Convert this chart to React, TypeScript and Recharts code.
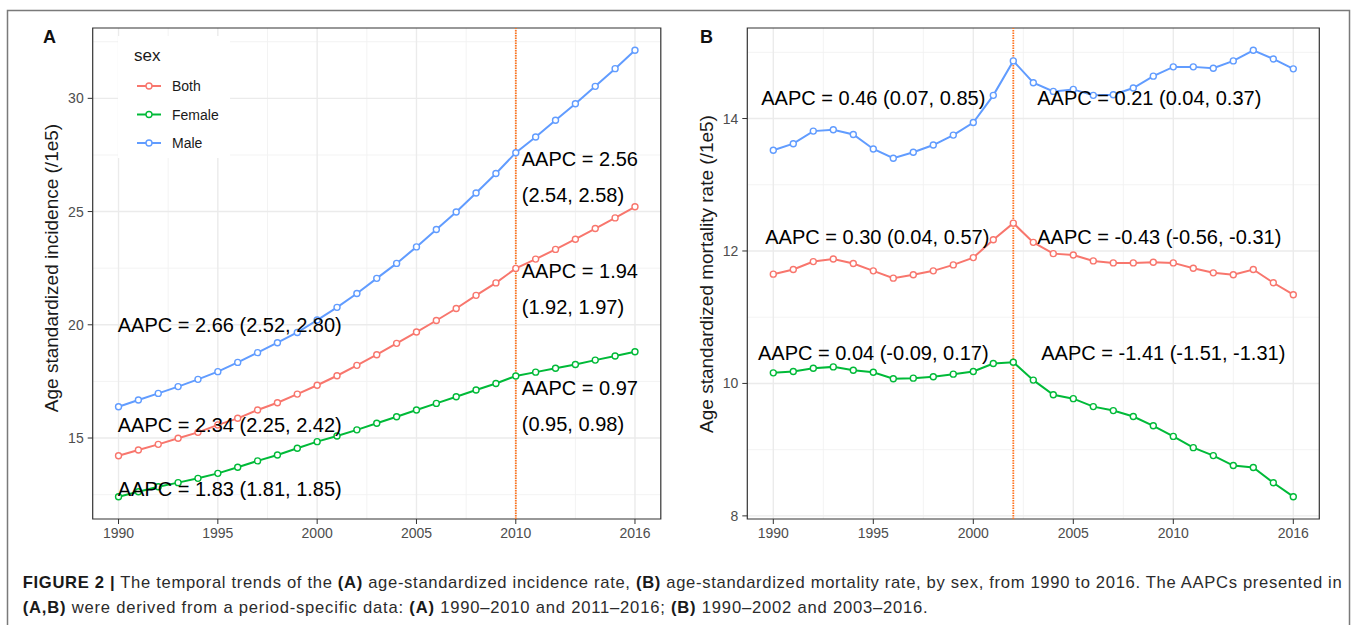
import React from "react";
import {
  LineChart,
  Line,
  XAxis,
  YAxis,
  CartesianGrid,
  ReferenceLine,
  ReferenceDot,
  ReferenceArea,
} from "recharts";

const years = [
  1990, 1991, 1992, 1993, 1994, 1995, 1996, 1997, 1998, 1999, 2000, 2001, 2002,
  2003, 2004, 2005, 2006, 2007, 2008, 2009, 2010, 2011, 2012, 2013, 2014, 2015,
  2016,
];

// panel A: age standardized incidence (/1e5)
const incidenceBoth = [
  14.22, 14.47, 14.72, 14.99, 15.25, 15.58, 15.87, 16.24, 16.56, 16.94, 17.33,
  17.75, 18.21, 18.68, 19.18, 19.68, 20.19, 20.72, 21.3, 21.85, 22.49, 22.9,
  23.33, 23.78, 24.25, 24.72, 25.21,
];
const incidenceFemale = [
  12.41, 12.63, 12.85, 13.03, 13.22, 13.44, 13.71, 13.99, 14.25, 14.55, 14.84,
  15.09, 15.36, 15.65, 15.94, 16.24, 16.53, 16.82, 17.12, 17.41, 17.74, 17.91,
  18.08, 18.25, 18.44, 18.62, 18.81,
];
const incidenceMale = [
  16.38, 16.68, 16.97, 17.27, 17.59, 17.93, 18.34, 18.77, 19.21, 19.66, 20.21,
  20.77, 21.38, 22.05, 22.71, 23.44, 24.21, 24.98, 25.82, 26.68, 27.6, 28.29,
  29.03, 29.76, 30.53, 31.31, 32.12,
];

// panel B: age standardized mortality rate (/1e5)
const mortalityBoth = [
  11.65, 11.72, 11.84, 11.88, 11.81, 11.7, 11.59, 11.64, 11.7, 11.79, 11.9,
  12.17, 12.42, 12.13, 11.96, 11.94, 11.85, 11.82, 11.82, 11.83, 11.82, 11.74,
  11.67, 11.64, 11.72, 11.52, 11.34,
];
const mortalityFemale = [
  10.16, 10.18, 10.23, 10.25, 10.2, 10.17, 10.07, 10.08, 10.1, 10.14, 10.18,
  10.3, 10.32, 10.05, 9.83, 9.77, 9.65, 9.59, 9.5, 9.36, 9.2, 9.03, 8.91, 8.76,
  8.73, 8.5, 8.29,
];
const mortalityMale = [
  13.52, 13.62, 13.81, 13.83, 13.76, 13.54, 13.4, 13.49, 13.6, 13.75, 13.94,
  14.35, 14.87, 14.54, 14.41, 14.44, 14.35, 14.36, 14.46, 14.64, 14.78, 14.78,
  14.76, 14.87, 15.03, 14.9, 14.75,
];

const xTicks = [1990, 1995, 2000, 2005, 2010, 2016];
const xMinor = [1992.5, 1997.5, 2002.5, 2007.5, 2013];
const incidenceTicks = [15, 20, 25, 30];
const incidenceMinor = [12.5, 17.5, 22.5, 27.5, 32.5];
const mortalityTicks = [8, 10, 12, 14];
const mortalityMinor = [9, 11, 13, 15];

const sexes = ["Both", "Female", "Male"];
const sexColors: Record<string, string> = {
  Both: "#F8766D",
  Female: "#00BA38",
  Male: "#619CFF",
};

// AAPC labels, anchored in data units
const incidenceNotes = [
  { year: 1995.6, value: 19.99, text: "AAPC = 2.66 (2.52, 2.80)", start: false },
  { year: 1995.6, value: 15.57, text: "AAPC = 2.34 (2.25, 2.42)", start: false },
  { year: 1995.6, value: 12.75, text: "AAPC = 1.83 (1.81, 1.85)", start: false },
  { year: 2010.3, value: 27.33, text: "AAPC = 2.56", start: true },
  { year: 2010.3, value: 25.73, text: "(2.54, 2.58)", start: true },
  { year: 2010.3, value: 22.38, text: "AAPC = 1.94", start: true },
  { year: 2010.3, value: 20.79, text: "(1.92, 1.97)", start: true },
  { year: 2010.3, value: 17.21, text: "AAPC = 0.97", start: true },
  { year: 2010.3, value: 15.62, text: "(0.95, 0.98)", start: true },
];
const mortalityNotes = [
  { year: 1995.0, value: 14.31, text: "AAPC = 0.46 (0.07, 0.85)", start: false },
  { year: 2008.8, value: 14.31, text: "AAPC = 0.21 (0.04, 0.37)", start: false },
  { year: 1995.2, value: 12.215, text: "AAPC = 0.30 (0.04, 0.57)", start: false },
  { year: 2009.3, value: 12.215, text: "AAPC = -0.43 (-0.56, -0.31)", start: false },
  { year: 1995.0, value: 10.46, text: "AAPC = 0.04 (-0.09, 0.17)", start: false },
  { year: 2009.5, value: 10.46, text: "AAPC = -1.41 (-1.51, -1.31)", start: false },
];

// ggplot-like 5% expansion
const expand = (values: number[]): [number, number] => {
  const lo = Math.min(...values);
  const hi = Math.max(...values);
  const pad = (hi - lo) * 0.05;
  return [lo - pad, hi + pad];
};

const buildRows = (both: number[], female: number[], male: number[]) =>
  years.map((year, i) => ({
    year,
    Both: both[i],
    Female: female[i],
    Male: male[i],
  }));

const tickStyle = { fill: "#4D4D4D", fontSize: 14 };

const Panel = ({
  rows,
  width,
  margin,
  yDomain,
  yTicks,
  yMinor,
  breakYear,
  notes,
}: any) => {
  const xDomain = expand(years);
  return (
    <LineChart width={width} height={560} data={rows} margin={margin}>
      <CartesianGrid
        verticalValues={xMinor}
        horizontalValues={yMinor}
        stroke="#F2F2F2"
        strokeWidth={0.9}
      />
      <CartesianGrid
        verticalValues={xTicks}
        horizontalValues={yTicks}
        stroke="#EBEBEB"
        strokeWidth={1.4}
      />
      <XAxis
        dataKey="year"
        type="number"
        domain={xDomain}
        ticks={xTicks}
        interval={0}
        allowDataOverflow
        height={30}
        axisLine={false}
        tickLine={{ stroke: "#333" }}
        tickSize={5}
        tickMargin={4}
        tick={tickStyle}
      />
      <YAxis
        type="number"
        domain={yDomain}
        ticks={yTicks}
        interval={0}
        allowDataOverflow
        width={40}
        axisLine={false}
        tickLine={{ stroke: "#333" }}
        tickSize={5}
        tickMargin={4}
        tick={tickStyle}
      />
      <ReferenceArea
        x1={xDomain[0]}
        x2={xDomain[1]}
        y1={yDomain[0]}
        y2={yDomain[1]}
        fill="none"
        stroke="#333"
        strokeWidth={1.2}
      />
      <ReferenceLine
        x={breakYear}
        stroke="#FF7420"
        strokeWidth={1.8}
        strokeDasharray="1.5 1"
      />
      {sexes.map((s) => (
        <Line
          key={s}
          dataKey={s}
          type="linear"
          stroke={sexColors[s]}
          strokeWidth={2}
          dot={{ r: 3, fill: "#fff", stroke: sexColors[s], strokeWidth: 1.4 }}
          activeDot={false}
          isAnimationActive={false}
        />
      ))}
      {notes.map((n: any, i: number) => (
        <ReferenceDot
          key={i}
          x={n.year}
          y={n.value}
          r={0}
          fill="none"
          stroke="none"
          label={{
            value: n.text,
            position: n.start ? "right" : "center",
            offset: 0,
            fill: "#000",
            fontSize: 20,
          }}
        />
      ))}
    </LineChart>
  );
};

const App = () => {
  const incidenceRows = buildRows(incidenceBoth, incidenceFemale, incidenceMale);
  const mortalityRows = buildRows(mortalityBoth, mortalityFemale, mortalityMale);
  const incidenceDomain = expand([
    ...incidenceBoth,
    ...incidenceFemale,
    ...incidenceMale,
  ]);
  const mortalityDomain = expand([
    ...mortalityBoth,
    ...mortalityFemale,
    ...mortalityMale,
  ]);

  return (
    <div
      style={{
        position: "absolute",
        left: 0,
        top: 0,
        width: 1357,
        height: 625,
        background: "#fff",
        overflow: "hidden",
        fontFamily: "'Liberation Sans', Arial, sans-serif",
      }}
    >
      <div style={{ position: "absolute", left: 0, top: 0 }}>
        <Panel
          rows={incidenceRows}
          width={680}
          margin={{ top: 28, right: 19.2, bottom: 11, left: 52.7 }}
          yDomain={incidenceDomain}
          yTicks={incidenceTicks}
          yMinor={incidenceMinor}
          breakYear={2010}
          notes={incidenceNotes}
        />
      </div>
      <div style={{ position: "absolute", left: 680, top: 0 }}>
        <Panel
          rows={mortalityRows}
          width={677}
          margin={{ top: 28, right: 37.7, bottom: 11, left: 27.3 }}
          yDomain={mortalityDomain}
          yTicks={mortalityTicks}
          yMinor={mortalityMinor}
          breakYear={2002}
          notes={mortalityNotes}
        />
      </div>

      <svg
        width={1357}
        height={625}
        style={{ position: "absolute", left: 0, top: 0, pointerEvents: "none" }}
      >
        <rect
          x={7.5}
          y={10.5}
          width={1342}
          height={700}
          fill="none"
          stroke="#7a7a7a"
          strokeWidth={1.5}
        />
        <text x={43} y={43} fontSize={18} fontWeight="bold" fill="#111">
          A
        </text>
        <text x={700} y={43} fontSize={18} fontWeight="bold" fill="#111">
          B
        </text>
        <text
          transform="translate(57.5,268) rotate(-90)"
          textAnchor="middle"
          fontSize={19}
          fill="#1a1a1a"
        >
          Age standardized incidence (/1e5)
        </text>
        <text
          transform="translate(713,274) rotate(-90)"
          textAnchor="middle"
          fontSize={19}
          fill="#1a1a1a"
        >
          Age standardized mortality rate (/1e5)
        </text>

        {/* legend */}
        <rect x={118} y={36} width={112} height={122} fill="#fff" />
        <text x={134} y={61} fontSize={17} fill="#1a1a1a">
          sex
        </text>
        {sexes.map((s, i) => {
          const cy = 86 + i * 28.5;
          return (
            <g key={s}>
              <line
                x1={137}
                x2={161}
                y1={cy}
                y2={cy}
                stroke={sexColors[s]}
                strokeWidth={2}
              />
              <circle
                cx={149}
                cy={cy}
                r={3}
                fill="#fff"
                stroke={sexColors[s]}
                strokeWidth={1.4}
              />
              <text x={172} y={cy + 5} fontSize={14} fill="#1a1a1a">
                {s}
              </text>
            </g>
          );
        })}

        {/* caption */}
        <text x={22.7} y={588} fontSize={16.6} fill="#2b2b2b" textLength={1319} lengthAdjust="spacing">
          <tspan fontWeight="bold" fill="#1a1a1a">FIGURE 2 |</tspan>
          <tspan> The temporal trends of the </tspan>
          <tspan fontWeight="bold" fill="#1a1a1a">(A)</tspan>
          <tspan> age-standardized incidence rate, </tspan>
          <tspan fontWeight="bold" fill="#1a1a1a">(B)</tspan>
          <tspan> age-standardized mortality rate, by sex, from 1990 to 2016. The AAPCs presented in</tspan>
        </text>
        <text x={22.7} y={612.5} fontSize={16.6} fill="#2b2b2b" textLength={905} lengthAdjust="spacing">
          <tspan fontWeight="bold" fill="#1a1a1a">(A,B)</tspan>
          <tspan> were derived from a period-specific data: </tspan>
          <tspan fontWeight="bold" fill="#1a1a1a">(A)</tspan>
          <tspan> 1990–2010 and 2011–2016; </tspan>
          <tspan fontWeight="bold" fill="#1a1a1a">(B)</tspan>
          <tspan> 1990–2002 and 2003–2016.</tspan>
        </text>
      </svg>
    </div>
  );
};

export default App;
